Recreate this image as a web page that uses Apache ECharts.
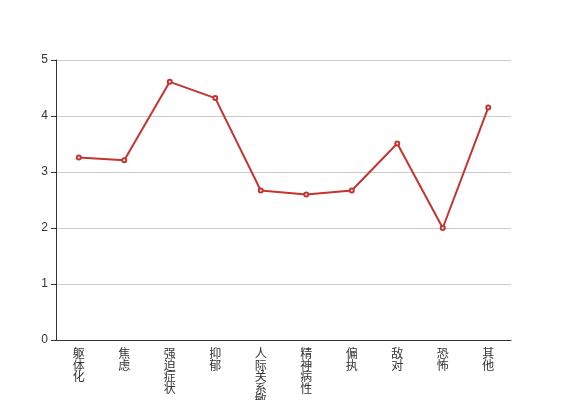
<!DOCTYPE html>
<html><head><meta charset="utf-8">
<script src="https://cdn.jsdelivr.net/npm/echarts@6/dist/echarts.min.js"></script>
<style>html,body{margin:0;padding:0;background:#fff}#c{width:567px;height:400px}</style>
</head><body><div id="c"></div>
<script>
var categories = ['躯体化','焦虑','强迫症状','抑郁','人际关系敏感','精神病性','偏执','敌对','恐怖','其他'];
var values = [3.26, 3.21, 4.61, 4.32, 2.67, 2.60, 2.67, 3.51, 2.00, 4.15];
var yTicks = [0, 1, 2, 3, 4, 5];
var chart = echarts.init(document.getElementById('c'), null, {renderer:'canvas'});
chart.setOption({
  animation: false,
  grid: {left: 56, right: 56, top: 60, bottom: 60, containLabel: false, outerBoundsMode: 'none'},
  xAxis: {
    type: 'category', data: categories, boundaryGap: true,
    axisLine: {lineStyle: {color: '#333'}},
    axisTick: {lineStyle: {color: '#333'}},
    axisLabel: {
      color: '#333', fontSize: 12, lineHeight: 11.5, interval: 0,
      fontFamily: 'Noto Sans CJK SC',
      formatter: function (v) { return v.split('').join('\n'); }
    }
  },
  yAxis: {
    type: 'value', min: yTicks[0], max: yTicks[yTicks.length-1], interval: 1,
    axisLine: {show: true, lineStyle: {color: '#333'}},
    axisTick: {show: true, lineStyle: {color: '#333'}},
    axisLabel: {color: '#333', fontSize: 12},
    splitLine: {lineStyle: {color: '#ccc'}}
  },
  series: [{
    type: 'line', data: values,
    symbol: 'emptyCircle', symbolSize: 4,
    lineStyle: {width: 2, color: '#c23531'},
    itemStyle: {color: '#c23531'}
  }]
});
</script></body></html>
